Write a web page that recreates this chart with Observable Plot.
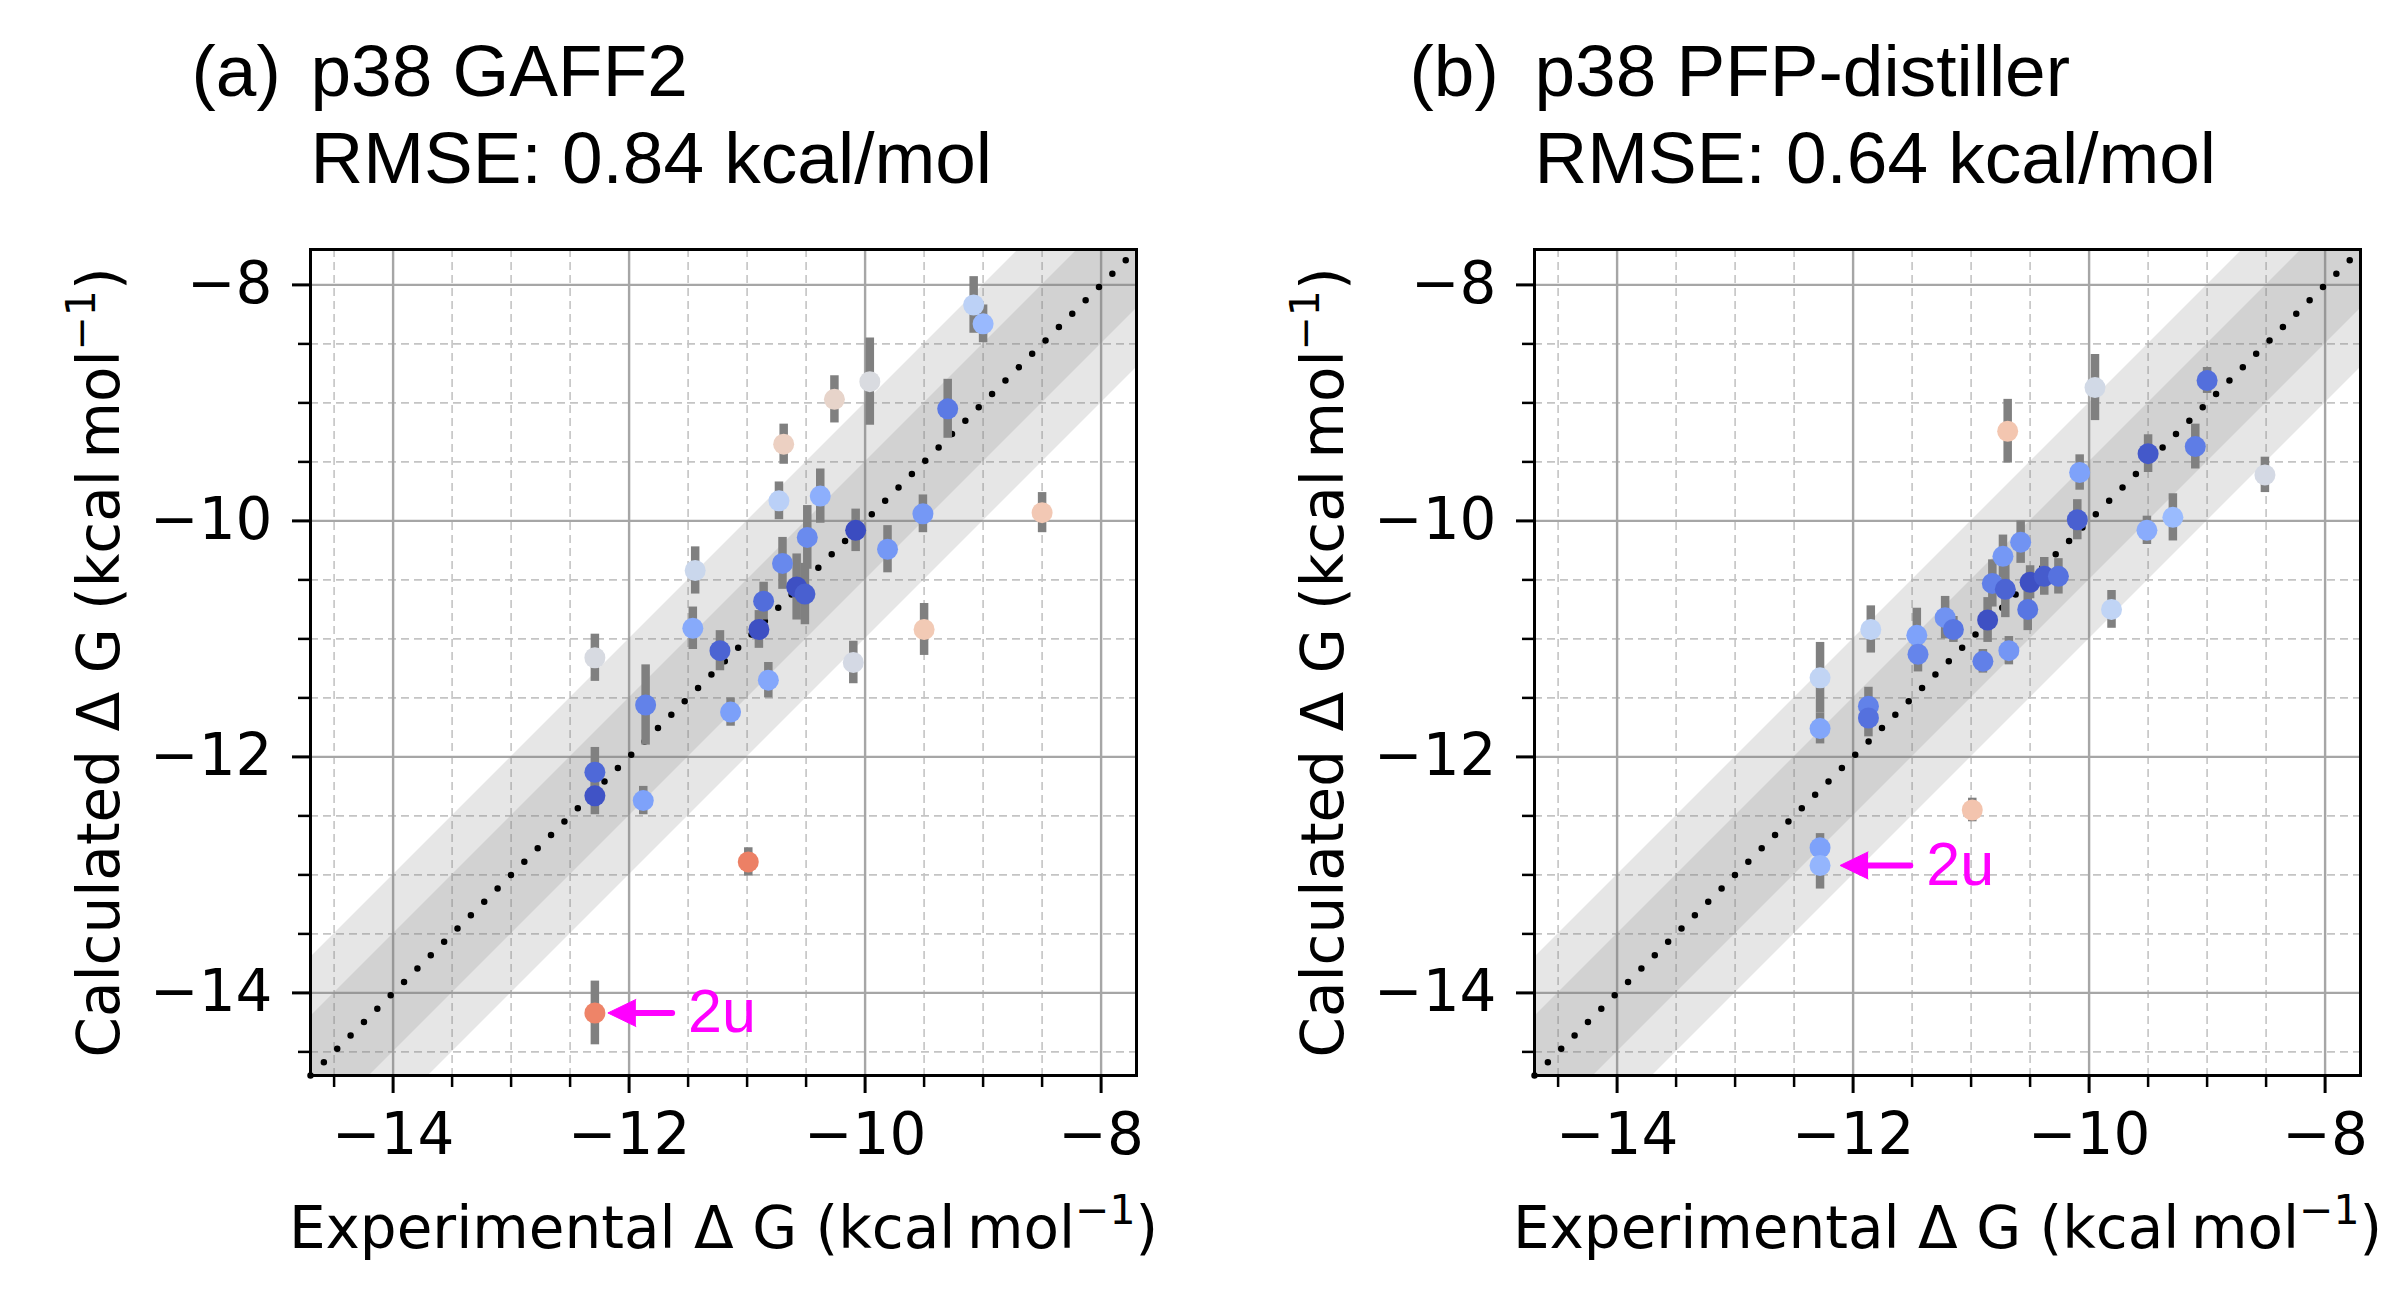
<!DOCTYPE html>
<html>
<head>
<meta charset="utf-8">
<script src="https://cdn.jsdelivr.net/npm/d3@7"></script>
<script src="https://cdn.jsdelivr.net/npm/@observablehq/plot@0.6"></script>
<style>
  html, body { margin: 0; padding: 0; background: #ffffff; }
  #wrap { display: flex; width: 2396px; height: 1304px; }
  #wrap svg { display: block; }
</style>
</head>
<body>
<div id="wrap"></div>
<script>
// ---- Panel (a): p38 GAFF2 ----
const gaffExp = [-9.08, -9.00, -9.96, -10.26, -9.30, -10.69, -10.73, -10.38, -8.50, -9.51, -10.08, -10.49, -9.81, -10.70, -11.44, -10.58, -10.51, -10.86, -10.90, -11.46, -11.23, -12.29, -10.10, -10.82, -9.50, -11.86, -11.14, -12.29, -12.29, -11.88, -10.99, -12.29];
const gaffCalc = [-8.17, -8.33, -8.82, -8.97, -9.05, -9.35, -9.83, -9.79, -9.93, -9.94, -10.08, -10.14, -10.24, -10.36, -10.42, -10.56, -10.62, -10.68, -10.92, -10.91, -11.10, -11.16, -11.20, -11.35, -10.92, -11.56, -11.62, -12.13, -12.33, -12.37, -12.89, -14.17];
const gaffErr = [0.24, 0.16, 0.37, 0.20, 0.25, 0.17, 0.16, 0.23, 0.17, 0.16, 0.18, 0.27, 0.20, 0.22, 0.20, 0.28, 0.26, 0.16, 0.16, 0.18, 0.17, 0.20, 0.18, 0.15, 0.22, 0.34, 0.12, 0.21, 0.16, 0.12, 0.12, 0.27];

// ---- Panel (b): p38 PFP-distiller ----
const pfpExp = [-9.00, -9.95, -10.69, -9.50, -9.10, -8.51, -10.08, -10.10, -9.51, -9.29, -10.58, -10.73, -10.82, -10.71, -10.50, -10.38, -10.26, -10.52, -9.81, -10.86, -11.22, -11.15, -11.85, -11.46, -11.45, -10.90, -10.68, -12.28, -12.28, -11.87, -11.87, -10.99, -12.28, -12.28];
const pfpCalc = [-8.81, -8.87, -9.24, -9.43, -9.37, -9.61, -9.59, -9.99, -10.08, -9.97, -10.18, -10.30, -10.53, -10.58, -10.52, -10.47, -10.47, -10.75, -10.75, -10.84, -10.82, -10.92, -10.92, -10.97, -11.13, -11.19, -11.10, -11.33, -11.76, -11.57, -11.67, -12.45, -12.77, -12.92];
const pfpErr = [0.11, 0.28, 0.27, 0.16, 0.19, 0.15, 0.15, 0.17, 0.12, 0.20, 0.18, 0.18, 0.20, 0.24, 0.14, 0.16, 0.15, 0.18, 0.16, 0.19, 0.18, 0.11, 0.20, 0.23, 0.15, 0.10, 0.12, 0.30, 0.13, 0.16, 0.16, 0.10, 0.12, 0.20];

// ---- Titles, labels, ticks ----
const panelTags = ["(a)", "(b)"];
const panelTitles = ["p38 GAFF2", "p38 PFP-distiller"];
const panelRmse = ["RMSE: 0.84 kcal/mol", "RMSE: 0.64 kcal/mol"];
const xLabel = "Experimental Δ G (kcal\u2009mol⁻¹)";
const yLabel = "Calculated Δ G (kcal\u2009mol⁻¹)";
const axisLimits = [-14.7, -7.7];
const majorTicks = [-14, -12, -10, -8];
const minorTicks = [-14.5, -13.5, -13, -12.5, -11.5, -11, -10.5, -9.5, -9, -8.5];
const bandHalfWidths = [1, 0.5];

// ---- Annotation "2u" ----
const annotLabel = "2u";
const gaffAnnot = {exp: -12.29, calc: -14.17, textX: -11.50};
const pfpAnnot = {exp: -12.28, calc: -12.92, textX: -11.38};

// coolwarm colormap stops (matplotlib)
const coolwarm = ["#3b4cc0", "#5977e3", "#7b9ff9", "#9ebeff", "#c0d4f5", "#dddcdc", "#f2cbb7", "#f7ac8e", "#ee8468", "#d65244", "#b40426"];
const errMax = 2.35;

function panel(exp, calc, err, annot, idx, opts) {
  const data = exp.map((e, i) => ({exp: e, calc: calc[i], err: err[i], absErr: Math.abs(calc[i] - e)}));
  const diag = axisLimits.map(v => ({v}));
  const fontTick = "DejaVu Sans";
  const fontTitle = "Liberation Sans, Arial, sans-serif";
  return Plot.plot({
    width: 1198,
    height: 1304,
    marginLeft: opts.marginLeft,
    marginRight: opts.marginRight,
    marginTop: 249,
    marginBottom: 229,
    x: {domain: axisLimits, label: null},
    y: {domain: axisLimits, label: null},
    color: {type: "linear", domain: coolwarm.map((_, i) => i * errMax / (coolwarm.length - 1)), range: coolwarm, clamp: true},
    style: {fontFamily: fontTick, fontSize: "58px", background: "#ffffff", color: "black", overflow: "visible"},
    marks: [
      Plot.gridX(minorTicks, {stroke: "#c4c4c4", strokeOpacity: 1, strokeWidth: 1.6, strokeDasharray: "8,5"}),
      Plot.gridY(minorTicks, {stroke: "#c4c4c4", strokeOpacity: 1, strokeWidth: 1.6, strokeDasharray: "8,5"}),
      Plot.gridX(majorTicks, {stroke: "#a6a6a6", strokeOpacity: 1, strokeWidth: 2.4}),
      Plot.gridY(majorTicks, {stroke: "#a6a6a6", strokeOpacity: 1, strokeWidth: 2.4}),
      ...bandHalfWidths.map(w => Plot.areaY(diag, {x: "v", y1: d => d.v - w, y2: d => d.v + w, fill: "#808080", fillOpacity: 0.2, clip: true})),
      Plot.line(diag, {x: "v", y: "v", stroke: "black", strokeWidth: 6.5, strokeDasharray: "0 18.9", strokeLinecap: "round"}),
      Plot.ruleX(data, {x: "exp", y1: d => d.calc - d.err, y2: d => d.calc + d.err, stroke: "#808080", strokeWidth: 8.5}),
      Plot.dot(data, {x: "exp", y: "calc", r: 10.5, fill: "absErr", stroke: null}),
      // annotation arrow shaft + head
      Plot.arrow([annot], {x1: "textX", y1: "calc", x2: "exp", y2: "calc", stroke: "#ff00ff", strokeWidth: 6, headLength: 0, insetStart: 16, insetEnd: opts.tipGap + 24}),
      Plot.vector([annot], {x: "exp", y: "calc", length: 28, rotate: -90, shape: "spike", r: 13.5, anchor: "end", dx: opts.tipGap, fill: "#ff00ff", stroke: "#ff00ff", strokeWidth: 1}),
      Plot.text([annot], {x: "textX", y: "calc", text: () => annotLabel, textAnchor: "start", lineAnchor: "middle", fill: "#ff00ff", fontFamily: fontTitle, fontSize: 61}),
      Plot.frame({stroke: "black", strokeWidth: 3}),
      Plot.axisX(majorTicks, {tickSize: 18, tickPadding: 19, strokeWidth: 3, tickFormat: d3.format("d"), label: null, fontSize: 58, fontFamily: fontTick}),
      Plot.axisX(minorTicks, {tickSize: 12, strokeWidth: 2.5, tickFormat: () => "", label: null}),
      Plot.axisY(majorTicks, {tickSize: 18, tickPadding: 20, strokeWidth: 3, tickFormat: d3.format("d"), label: null, fontSize: 58, fontFamily: fontTick}),
      Plot.axisY(minorTicks, {tickSize: 12, strokeWidth: 2.5, tickFormat: () => "", label: null}),
      Plot.text([xLabel], {frameAnchor: "bottom", dy: 172, lineAnchor: "bottom", textAnchor: "middle", fontSize: 58, fontFamily: fontTick}),
      Plot.text([yLabel], {frameAnchor: "left", dx: -192, rotate: -90, lineAnchor: "bottom", textAnchor: "middle", fontSize: 58, fontFamily: fontTick}),
      Plot.text([panelTags[idx]], {frameAnchor: "top-left", dx: opts.tagDx, dy: -154, lineAnchor: "bottom", textAnchor: "start", fontSize: 73, fontFamily: fontTitle}),
      Plot.text([panelTitles[idx]], {frameAnchor: "top-left", dx: 0, dy: -154, lineAnchor: "bottom", textAnchor: "start", fontSize: 73, fontFamily: fontTitle}),
      Plot.text([panelRmse[idx]], {frameAnchor: "top-left", dx: 0, dy: -67, lineAnchor: "bottom", textAnchor: "start", fontSize: 73, fontFamily: fontTitle})
    ]
  });
}

// render "⁻¹" as a real superscript (tspans), keeping the text as text
function superscriptUnits(svg) {
  const ns = "http://www.w3.org/2000/svg";
  svg.querySelectorAll("text").forEach(t => {
    const s = t.textContent;
    if (!s.includes("⁻¹")) return;
    const [before, after] = s.split("⁻¹");
    while (t.firstChild) t.removeChild(t.firstChild);
    const a = document.createElementNS(ns, "tspan");
    a.textContent = before;
    const sup = document.createElementNS(ns, "tspan");
    sup.textContent = "−1";
    sup.setAttribute("font-size", "41");
    sup.setAttribute("dy", "-24");
    const b = document.createElementNS(ns, "tspan");
    b.textContent = after;
    b.setAttribute("dy", "24");
    t.append(a, sup, b);
  });
  return svg;
}

const wrap = document.getElementById("wrap");
wrap.appendChild(superscriptUnits(panel(gaffExp, gaffCalc, gaffErr, gaffAnnot, 0, {marginLeft: 310, marginRight: 62, tipGap: 13, tagDx: -119})));
wrap.appendChild(superscriptUnits(panel(pfpExp, pfpCalc, pfpErr, pfpAnnot, 1, {marginLeft: 336, marginRight: 36, tipGap: 20, tagDx: -125})));
</script>
</body>
</html>
